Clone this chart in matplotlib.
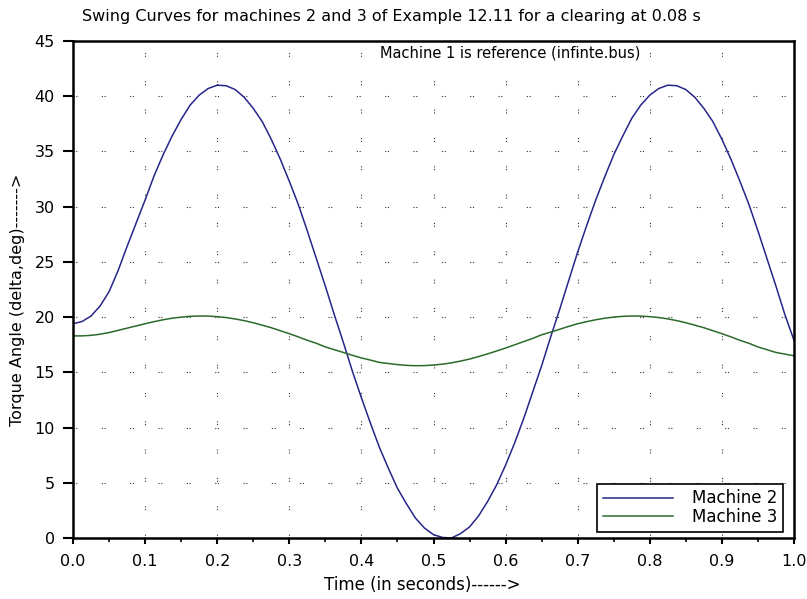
import matplotlib
matplotlib.use('Agg')
import matplotlib.pyplot as plt
from matplotlib.ticker import MultipleLocator, FormatStrFormatter

# time axis (s)
t = [0.0, 0.0125, 0.025, 0.0375, 0.05, 0.0625, 0.075, 0.0875, 0.1, 0.1125,
     0.125, 0.1375, 0.15, 0.1625, 0.175, 0.1875, 0.2, 0.2125, 0.225, 0.2375,
     0.25, 0.2625, 0.275, 0.2875, 0.3, 0.3125, 0.325, 0.3375, 0.35, 0.3625,
     0.375, 0.3875, 0.4, 0.4125, 0.425, 0.4375, 0.45, 0.4625, 0.475, 0.4875,
     0.5, 0.5125, 0.525, 0.5375, 0.55, 0.5625, 0.575, 0.5875, 0.6, 0.6125,
     0.625, 0.6375, 0.65, 0.6625, 0.675, 0.6875, 0.7, 0.7125, 0.725, 0.7375,
     0.75, 0.7625, 0.775, 0.7875, 0.8, 0.8125, 0.825, 0.8375, 0.85, 0.8625,
     0.875, 0.8875, 0.9, 0.9125, 0.925, 0.9375, 0.95, 0.9625, 0.975, 0.9875, 1.0]

# torque angle of machine 2 (deg)
m2 = [19.4, 19.6, 20.1, 21.0, 22.3, 24.2, 26.4, 28.5, 30.6, 32.8,
      34.7, 36.4, 37.9, 39.2, 40.1, 40.7, 41.0, 40.95, 40.6, 39.9,
      38.9, 37.7, 36.1, 34.3, 32.3, 30.2, 27.8, 25.3, 22.8, 20.2,
      17.7, 15.1, 12.7, 10.4, 8.2, 6.3, 4.5, 3.1, 1.8, 0.9,
      0.3, 0.05, 0.0, 0.4, 1.0, 2.0, 3.3, 4.8, 6.6, 8.6,
      10.8, 13.2, 15.6, 18.2, 20.7, 23.3, 25.9, 28.3, 30.6, 32.7,
      34.7, 36.4, 38.0, 39.2, 40.1, 40.7, 41.0, 40.95, 40.6, 39.9,
      38.9, 37.7, 36.1, 34.3, 32.3, 30.2, 27.8, 25.3, 22.8, 20.2, 17.9]

# torque angle of machine 3 (deg)
m3 = [18.3, 18.3, 18.35, 18.45, 18.6, 18.8, 19.0, 19.2, 19.4, 19.59,
      19.76, 19.9, 20.0, 20.07, 20.1, 20.09, 20.04, 19.96, 19.83, 19.68,
      19.49, 19.27, 19.04, 18.77, 18.5, 18.21, 17.9, 17.63, 17.3, 17.05,
      16.8, 16.54, 16.3, 16.11, 15.9, 15.8, 15.7, 15.63, 15.6, 15.61,
      15.66, 15.74, 15.86, 16.02, 16.2, 16.43, 16.67, 16.93, 17.2, 17.49,
      17.78, 18.07, 18.4, 18.64, 18.9, 19.16, 19.4, 19.59, 19.76, 19.9,
      20.0, 20.07, 20.1, 20.09, 20.04, 19.96, 19.84, 19.68, 19.49, 19.27,
      19.04, 18.77, 18.5, 18.21, 17.9, 17.63, 17.3, 17.05, 16.8, 16.65, 16.5]

plt.rcParams['font.family'] = ['DejaVu Sans']

fig = plt.figure(figsize=(8.07, 5.99), dpi=100)
ax = fig.add_axes([73/807, 1-538/599, (794-73)/807, (538-41)/599])

ax.plot(t, m2, color='#26268a', lw=1.1, label='Machine 2')
ax.plot(t, m3, color='#2c6a2c', lw=1.1, label='Machine 3')

ax.set_xlim(0, 1)
ax.set_ylim(0, 45)
ax.xaxis.set_major_locator(MultipleLocator(0.1))
ax.xaxis.set_minor_locator(MultipleLocator(0.05))
ax.xaxis.set_major_formatter(FormatStrFormatter('%.1f'))
ax.yaxis.set_major_locator(MultipleLocator(5))

ax.tick_params(axis='x', which='major', direction='out', length=4.5, width=1.5, pad=7, labelsize=11.5)
ax.tick_params(axis='x', which='minor', direction='out', length=3, width=1.2)
ax.tick_params(axis='y', which='major', direction='out', length=7, width=1.5, pad=6, labelsize=11.5)
for s in ax.spines.values():
    s.set_linewidth(1.8)

ax.grid(True, which='major', color='#333333', lw=0.8, linestyle=(0, (1, 1.5, 1, 22)))

ax.text(0.607, 0.99, 'Machine 1 is reference (infinte.bus)', transform=ax.transAxes,
        ha='center', va='top', fontsize=10.5)

fig.suptitle('Swing Curves for machines 2 and 3 of Example 12.11 for a clearing at 0.08 s',
             x=0.4845, y=0.985, fontsize=11.5)
ax.set_xlabel('Time (in seconds)------>', fontsize=12, labelpad=8)
ax.xaxis.set_label_coords(0.485, -0.077)
ax.set_ylabel('Torque Angle (delta,deg)------->', fontsize=11.5)
ax.yaxis.set_label_coords(-0.066, 0.479)

leg = ax.legend(loc='lower right', bbox_to_anchor=(0.9847, 0.012), borderaxespad=0,
                fontsize=12, fancybox=False, framealpha=1, edgecolor='black',
                handlelength=4.25, handletextpad=1.1, labelspacing=0.05, borderpad=0.35)
leg.get_frame().set_linewidth(1.2)

fig.savefig('out.png', dpi=100)
